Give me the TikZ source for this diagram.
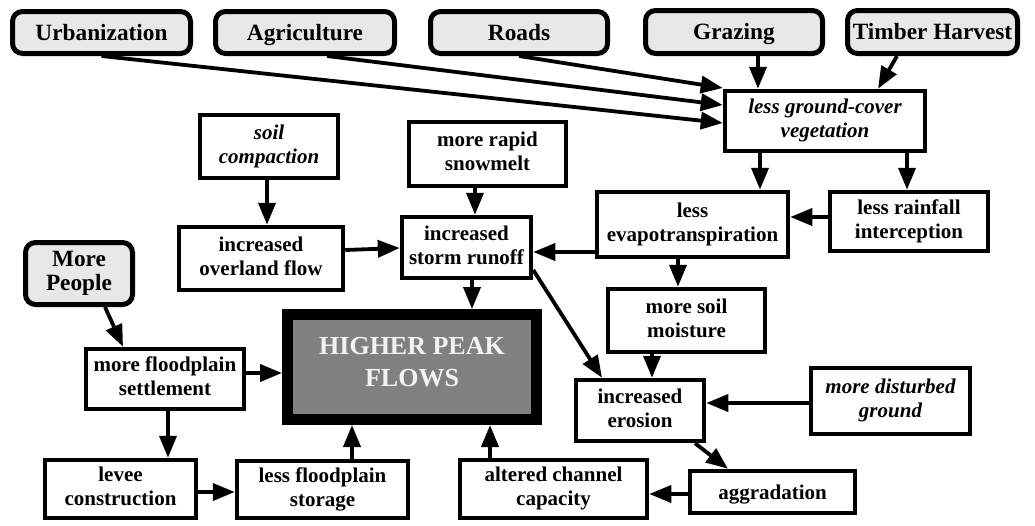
\documentclass[tikz,border=0pt]{standalone}
\usepackage{fontspec}
\setmainfont{Liberation Serif}
\usetikzlibrary{arrows.meta}
\definecolor{srcgray}{HTML}{E8E8E8}
\definecolor{peakgray}{HTML}{808080}
\definecolor{peaktext}{HTML}{F2F2F2}
\newcommand{\dgStrutB}{\rule[-5pt]{0pt}{24.3pt}}
\newcommand{\dgStrutS}{\rule[-5.5pt]{0pt}{26.4pt}}
\newcommand{\dgStrutP}{\rule[-10pt]{0pt}{28.2pt}}
\begin{document}
\begin{tikzpicture}[x=1pt,y=-1pt,
  box/.style={draw, line width=4.5pt, fill=white, align=center, inner sep=0pt,
    font=\fontsize{21}{24}\selectfont\bfseries,
    execute at begin node=\dgStrutB, execute at end node=\dgStrutB},
  ibox/.style={box, font=\fontsize{21}{24}\selectfont\bfseries\itshape},
  src/.style={draw, rounded corners=10pt, fill=srcgray, line width=5pt,
    align=center, inner sep=0pt,
    font=\fontsize{23.3}{23.5}\selectfont\bfseries,
    execute at begin node=\dgStrutS, execute at end node=\dgStrutS},
  peak/.style={draw, line width=11pt, fill=peakgray, align=center, inner sep=0pt,
    text=peaktext, font=\fontsize{26}{31.5}\selectfont\bfseries,
    execute at begin node=\dgStrutP, execute at end node=\dgStrutP},
  arr/.style={line width=3.8pt, -{Triangle[length=22pt,width=17pt]}},
]
\fill[white] (0,0) rectangle (1035,525);
\useasboundingbox (0,0) rectangle (1035,525);

% source boxes
\node[src, minimum width=178, minimum height=42] (urb) at (101.5,32.5) {Urbanization};
\node[src, minimum width=179, minimum height=42] (agri) at (305,32.5) {Agriculture};
\node[src, minimum width=177, minimum height=42] (roads) at (519,32.5) {Roads};
\node[src, minimum width=177, minimum height=43] (graz) at (734,32) {Grazing};
\node[src, minimum width=170, minimum height=43] (timber) at (932.5,32) {Timber Harvest};
\node[src, minimum width=107, minimum height=62] (people) at (79,273.5) {More\\People};

% process boxes
\node[ibox, minimum width=200, minimum height=60] (veg) at (825,121) {less ground-cover\\vegetation};
\node[ibox, minimum width=138, minimum height=63] (soil) at (269,146.5) {soil\\compaction};
\node[box, minimum width=157, minimum height=64] (snow) at (487.5,154) {more rapid\\snowmelt};
\node[box, minimum width=191, minimum height=65] (evap) at (692.5,224.5) {less\\evapotranspiration};
\node[box, minimum width=158, minimum height=59] (rain) at (909,221.5) {less rainfall\\interception};
\node[box, minimum width=129, minimum height=61] (storm) at (466.5,247.5) {increased\\storm runoff};
\node[box, minimum width=164, minimum height=63] (over) at (261,258.5) {increased\\overland flow};
\node[peak, minimum width=249, minimum height=105] (hpf) at (412,367) {HIGHER PEAK\\FLOWS};
\node[box, minimum width=158, minimum height=60] (settle) at (165,379) {more floodplain\\settlement};
\node[box, minimum width=151, minimum height=58] (levee) at (120.5,489) {levee\\construction};
\node[box, minimum width=171, minimum height=57] (storage) at (322.5,489.5) {less floodplain\\storage};
\node[box, minimum width=187, minimum height=58] (channel) at (553.5,489) {altered channel\\capacity};
\node[box, minimum width=157, minimum height=63] (moist) at (686.5,320.5) {more soil\\moisture};
\node[box, minimum width=128, minimum height=61] (erosion) at (640,410.5) {increased\\erosion};
\node[ibox, minimum width=159, minimum height=66] (dist) at (890.5,401) {more disturbed\\ground};
\node[box, minimum width=165, minimum height=42] (aggr) at (772.5,492) {aggradation};

% connectors
\draw[arr] (roads.south) -- ([yshift=33pt]veg.west);
\draw[arr] ([xshift=22pt]agri.south) -- ([yshift=16pt]veg.west);
\draw[arr] (urb.south) -- ([yshift=-2pt]veg.west);
\draw[arr] ([xshift=24pt]graz.south) -- ([xshift=-67pt]veg.north);
\draw[arr] ([xshift=-35.5pt]timber.south) -- ([xshift=53pt]veg.north);
\draw[arr] ([xshift=-65pt]veg.south) -- ([xshift=67.5pt]evap.north);
\draw[arr] ([xshift=82pt]veg.south) -- ([xshift=-2pt]rain.north);
\draw[arr] ([yshift=4.5pt]rain.west) -- ([yshift=7.5pt]evap.east);
\draw[arr] ([yshift=-27.5pt]evap.west) -- ([yshift=-4.5pt]storm.east);
\draw[arr] ([xshift=-12.5pt]snow.south) -- ([xshift=8.5pt]storm.north);
\draw[arr] ([xshift=-2pt]soil.south) -- ([xshift=6pt]over.north);
\draw[arr] ([yshift=8.5pt]over.east) -- ([yshift=-0.5pt]storm.west);
\draw[arr] ([xshift=5.5pt]storm.south) -- ([xshift=60pt]hpf.north);
\draw[arr] ([yshift=-22.5pt]storm.east) -- ([xshift=-38pt]erosion.north);
\draw[arr] ([xshift=-14.5pt]evap.south) -- ([xshift=-8.5pt]moist.north);
\draw[arr] ([xshift=-34.5pt]moist.south) -- ([xshift=12pt]erosion.north);
\draw[arr] ([yshift=-2pt]dist.west) -- ([yshift=7.5pt]erosion.east);
\draw[arr] ([xshift=55pt]erosion.south) -- ([xshift=-44.5pt]aggr.north);
\draw[arr] ([yshift=-2pt]aggr.west) -- ([yshift=-5pt]channel.east);
\draw[arr] ([xshift=-63.5pt]channel.north) -- ([xshift=78pt]hpf.south);
\draw[arr] ([xshift=29.5pt]storage.north) -- ([xshift=-60pt]hpf.south);
\draw[arr] ([yshift=-3pt]levee.east) -- ([yshift=-2.5pt]storage.west);
\draw[arr] ([xshift=3pt]settle.south) -- ([xshift=47.5pt]levee.north);
\draw[arr] ([yshift=6pt]settle.east) -- ([yshift=-6pt]hpf.west);
\draw[arr] ([xshift=26pt]people.south) -- ([xshift=-42pt]settle.north);
\end{tikzpicture}
\end{document}
